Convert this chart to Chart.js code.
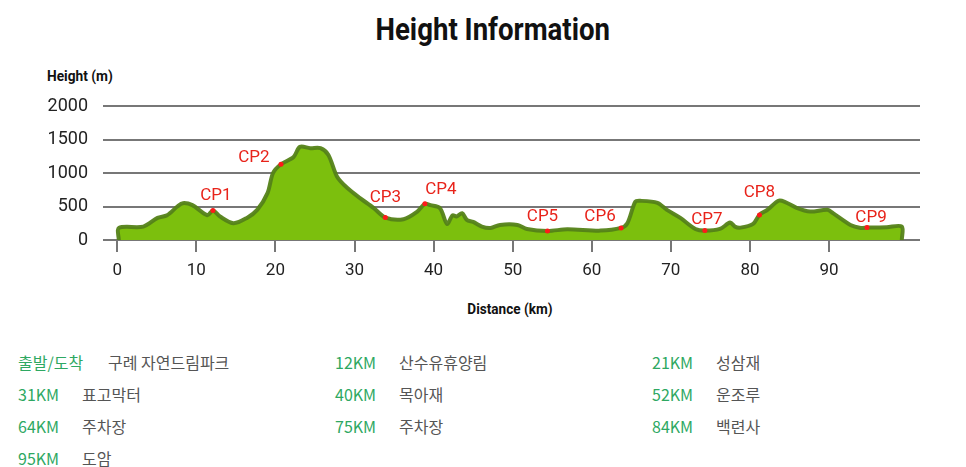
<!DOCTYPE html>
<html>
<head>
<meta charset="utf-8">
<script src="https://cdn.jsdelivr.net/npm/chart.js@4.4.1/dist/chart.umd.min.js"></script>
<style>
  html, body { margin: 0; padding: 0; background: #fff; }
  #wrap { position: relative; width: 966px; height: 467px; overflow: hidden; font-family: Roboto, "Noto Sans", sans-serif; }
  #chartBox { position: absolute; left: 0; top: 0; width: 966px; height: 300px; }
  .title { position: absolute; top: 11px; left: 0; width: 986px; text-align: center; font: bold 31px Roboto, sans-serif; color: #111; }
  .title span { display: inline-block; transform: scaleX(0.89); transform-origin: center; }
  .ylab { position: absolute; left: 47px; top: 68px; font: bold 14px Roboto, sans-serif; color: #111; transform: scaleX(0.98); transform-origin: left; }
  .xlab { position: absolute; left: 0; top: 301px; width: 1020px; text-align: center; font: bold 14px Roboto, sans-serif; color: #111; }
  .xlab span { display: inline-block; transform: scaleX(0.97); }
  .cps { position: absolute; left: 0; top: 350px; width: 966px; font-family: "Noto Sans CJK KR", sans-serif; font-size: 16px; }
  .cp { position: absolute; white-space: nowrap; }
  .cp .km { color: #2ea862; }
  .cp .nm { color: #555; position: absolute; top: 0; }
</style>
</head>
<body>
<div id="wrap">
  <div class="title"><span>Height Information</span></div>
  <div class="ylab">Height (m)</div>
  <div id="chartBox"><canvas id="heightChart"></canvas></div>
  <div class="xlab"><span>Distance (km)</span></div>
  <div class="cps" id="cpList"></div>
</div>
<script>
// 고도 프로필 (거리 km / 높이 m)
const distKm = [0.2, 0.2, 3.3, 5.1, 6.3, 7.6, 8.3, 9.5, 11.4, 12.1, 13.0, 14.7, 16.4, 17.7, 19.0, 19.7,
  20.7, 22.3, 23.1, 24.4, 25.7, 26.7, 27.8, 29.1, 30.7, 32.4, 33.9, 36.2, 37.9, 38.9, 39.6, 40.8,
  41.7, 42.4, 42.9, 43.6, 44.2, 45.0, 46.1, 47.2, 48.4, 50.6, 51.8, 54.4, 56.9, 61.1, 63.7, 64.5,
  65.5, 66.1, 68.3, 69.5, 71.2, 73.1, 74.3, 76.2, 77.5, 78.1, 78.8, 80.4, 81.2, 82.2, 83.6, 84.4,
  85.9, 87.6, 89.8, 90.5, 92.7, 94.0, 94.8, 97.3, 99.2, 99.2];
const heightM = [0, 180, 200, 330, 370, 500, 550, 520, 370, 440, 350, 250, 330, 450, 700, 1000,
  1130, 1240, 1390, 1370, 1370, 1270, 945, 775, 625, 480, 335, 310, 420, 540, 520, 475,
  240, 370, 350, 400, 300, 270, 200, 180, 225, 225, 165, 135, 160, 140, 180, 250,
  570, 585, 555, 450, 330, 165, 140, 165, 260, 200, 185, 240, 375, 450, 585, 570,
  480, 425, 450, 400, 225, 180, 185, 190, 200, 0];

// 체크포인트
const cpNames = ["CP1", "CP2", "CP3", "CP4", "CP5", "CP6", "CP7", "CP8", "CP9"];
const cpKm = [12.1, 20.7, 33.9, 38.9, 54.4, 63.7, 74.3, 81.2, 94.8];
const cpHeight = [440, 1130, 335, 540, 135, 180, 140, 375, 185];

const xTicks = [0, 10, 20, 30, 40, 50, 60, 70, 80, 90];
const yTicks = [0, 500, 1000, 1500, 2000];

// 하단 지점 목록
const placeKm = ["출발/도착", "12KM", "21KM", "31KM", "40KM", "52KM", "64KM", "75KM", "84KM", "95KM"];
const placeName = ["구례 자연드림파크", "산수유휴양림", "성삼재", "표고막터", "목아재", "운조루", "주차장", "주차장", "백련사", "도암"];

// 라벨 위치 (점 기준 오프셋, 스타일용)
const cpLabelShift = [[3, -15], [-27, -7], [0, -20], [16, -14], [-5, -14], [-21, -11], [2, -11], [0, -22], [4, -10]];

const cpLabels = {
  id: "cpLabels",
  afterDatasetsDraw(chart) {
    const meta = chart.getDatasetMeta(1);
    const ctx = chart.ctx;
    ctx.save();
    ctx.font = "17px Roboto, sans-serif";
    ctx.fillStyle = "#e8231a";
    ctx.textAlign = "center";
    ctx.textBaseline = "middle";
    meta.data.forEach((pt, i) => {
      const s = cpLabelShift[i];
      ctx.fillText(cpNames[i], pt.x + s[0], pt.y + s[1]);
    });
    ctx.restore();
  }
};

new Chart(document.getElementById("heightChart"), {
  type: "line",
  data: {
    datasets: [
      {
        data: distKm.map((d, i) => ({ x: d, y: heightM[i] })),
        borderColor: "rgba(84,130,24,0.95)",
        backgroundColor: "#7cbf0d",
        borderWidth: 4,
        fill: "origin",
        tension: 0.3,
        pointRadius: 0,
        order: 2
      },
      {
        data: cpKm.map((d, i) => ({ x: d, y: cpHeight[i] })),
        showLine: false,
        pointRadius: 2.5,
        pointBackgroundColor: "#ff1a1a",
        pointBorderWidth: 0,
        order: 1
      }
    ]
  },
  options: {
    responsive: true,
    maintainAspectRatio: false,
    animation: false,
    layout: { padding: { top: 106, right: 46, bottom: 0, left: 0 } },
    plugins: { legend: { display: false }, tooltip: { enabled: false } },
    scales: {
      x: {
        type: "linear",
        min: -1.8,
        max: 101.5,
        afterBuildTicks: s => { s.ticks = xTicks.map(v => ({ value: v })); },
        afterFit: s => { s.height = 60; },
        border: { display: false },
        grid: { drawOnChartArea: false, drawTicks: true, tickLength: 12, color: "#777", lineWidth: 2 },
        ticks: { padding: 9, color: "#222", font: { size: 17, family: "Roboto" }, callback: v => String(v) }
      },
      y: {
        min: 0,
        max: 2000,
        afterBuildTicks: s => { s.ticks = yTicks.map(v => ({ value: v })); },
        afterFit: s => { s.width = 103; },
        border: { display: false },
        grid: { drawTicks: false, color: "#777", lineWidth: 2 },
        ticks: { padding: 15, color: "#222", font: { size: 18, family: "Roboto" }, callback: v => String(v) }
      }
    }
  },
  plugins: [cpLabels]
});

// 하단 목록 만들기
const list = document.getElementById("cpList");
placeKm.forEach((k, i) => {
  const col = i % 3;
  const row = Math.floor(i / 3);
  const el = document.createElement("div");
  el.className = "cp";
  el.style.left = (18 + col * 317) + "px";
  el.style.top = (row * 32) + "px";
  el.innerHTML = `<span class="km">${k}</span><span class="nm" style="left:${i === 0 ? 90 : 64}px">${placeName[i]}</span>`;
  list.appendChild(el);
});
</script>
</body>
</html>
